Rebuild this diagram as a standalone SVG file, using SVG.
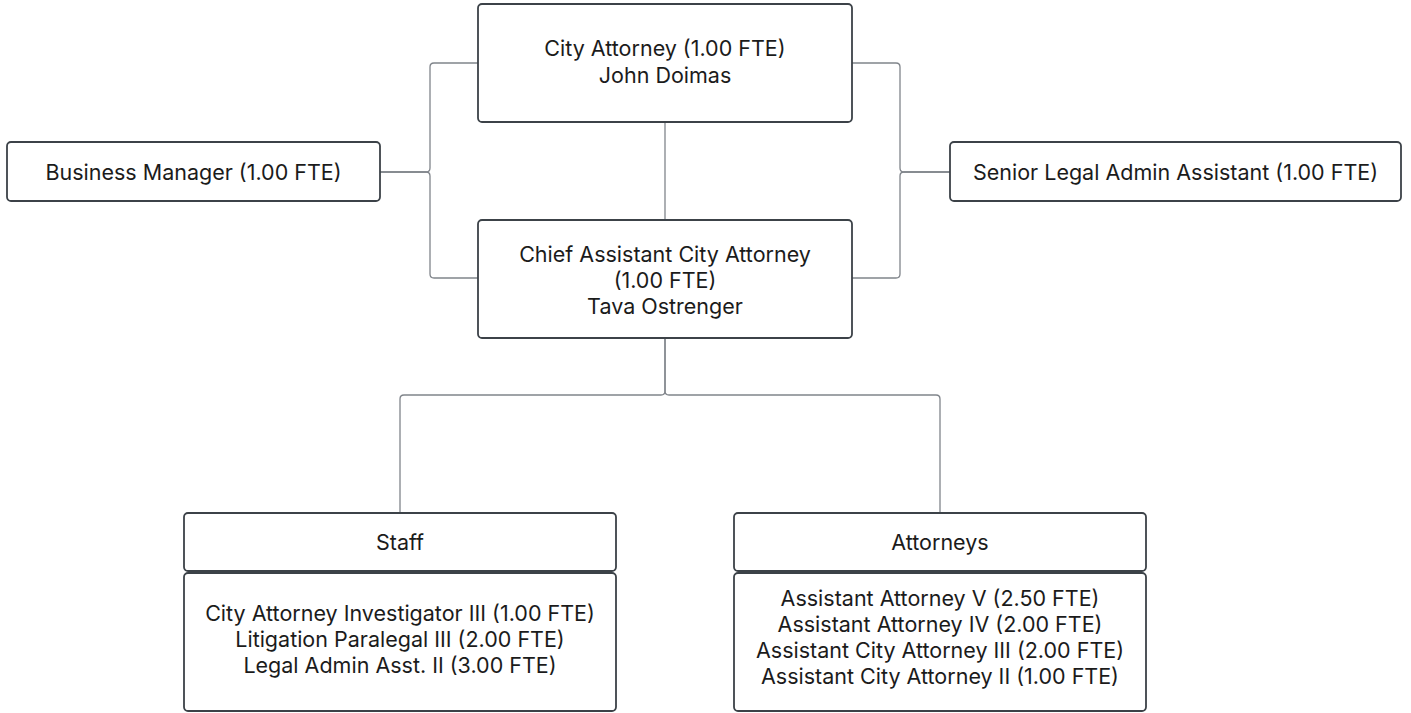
<svg xmlns="http://www.w3.org/2000/svg" width="1411" height="713" viewBox="0 0 1411 713">
  <style>
    .box { fill: #ffffff; stroke: #3c4248; stroke-width: 1.8; }
    .lbl { font-family: Inter, "Noto Sans", "Liberation Sans", sans-serif; font-size: 21.5px; fill: #1b1b1b; text-anchor: middle; }
    .wire { fill: none; stroke: #80858b; stroke-width: 1.3; }
  </style>
  <rect width="1411" height="713" fill="#ffffff"/>

  <!-- connectors -->
  <g id="connectors">
    <!-- City Attorney to Chief Assistant -->
    <path class="wire" d="M665 122 V220"/>
    <!-- Business Manager links -->
    <path class="wire" d="M380 172 H426 Q430 172 430 168 V67 Q430 63 434 63 H478"/>
    <path class="wire" d="M380 172 H426 Q430 172 430 176 V274 Q430 278 434 278 H478"/>
    <!-- Senior Legal Admin Assistant links -->
    <path class="wire" d="M950 172 H904 Q900 172 900 168 V67 Q900 63 896 63 H852"/>
    <path class="wire" d="M950 172 H904 Q900 172 900 176 V274 Q900 278 896 278 H852"/>
    <!-- Chief Assistant to teams -->
    <path class="wire" d="M665 338 V391 Q665 395 661 395 H404 Q400 395 400 399 V513"/>
    <path class="wire" d="M665 338 V391 Q665 395 669 395 H936 Q940 395 940 399 V513"/>
  </g>

  <g id="city-attorney">
    <rect class="box" x="478" y="4" width="374" height="118" rx="4"/>
    <text class="lbl" x="665" y="56">City Attorney (1.00 FTE)</text>
    <text class="lbl" x="665" y="82.5">John Doimas</text>
  </g>

  <g id="business-manager">
    <rect class="box" x="7" y="142" width="373" height="59" rx="4"/>
    <text class="lbl" x="193.5" y="179.5">Business Manager (1.00 FTE)</text>
  </g>

  <g id="senior-legal-admin">
    <rect class="box" x="950" y="142" width="451" height="59" rx="4"/>
    <text class="lbl" x="1175.5" y="179.5">Senior Legal Admin Assistant (1.00 FTE)</text>
  </g>

  <g id="chief-assistant">
    <rect class="box" x="478" y="220" width="374" height="118" rx="4"/>
    <text class="lbl" x="665" y="262">Chief Assistant City Attorney</text>
    <text class="lbl" x="665" y="288">(1.00 FTE)</text>
    <text class="lbl" x="665" y="313.5">Tava Ostrenger</text>
  </g>

  <g id="staff">
    <rect class="box" x="184" y="513" width="432" height="58" rx="4"/>
    <text class="lbl" x="400" y="550">Staff</text>
    <rect class="box" x="184" y="573" width="432" height="138" rx="4"/>
    <text class="lbl" x="400" y="621">City Attorney Investigator III (1.00 FTE)</text>
    <text class="lbl" x="400" y="647">Litigation Paralegal III (2.00 FTE)</text>
    <text class="lbl" x="400" y="673">Legal Admin Asst. II (3.00 FTE)</text>
  </g>

  <g id="attorneys">
    <rect class="box" x="734" y="513" width="412" height="58" rx="4"/>
    <text class="lbl" x="940" y="550">Attorneys</text>
    <rect class="box" x="734" y="573" width="412" height="138" rx="4"/>
    <text class="lbl" x="940" y="605.5">Assistant Attorney V (2.50 FTE)</text>
    <text class="lbl" x="940" y="631.5">Assistant Attorney IV (2.00 FTE)</text>
    <text class="lbl" x="940" y="657.5">Assistant City Attorney III (2.00 FTE)</text>
    <text class="lbl" x="940" y="683.5">Assistant City Attorney II (1.00 FTE)</text>
  </g>
</svg>
